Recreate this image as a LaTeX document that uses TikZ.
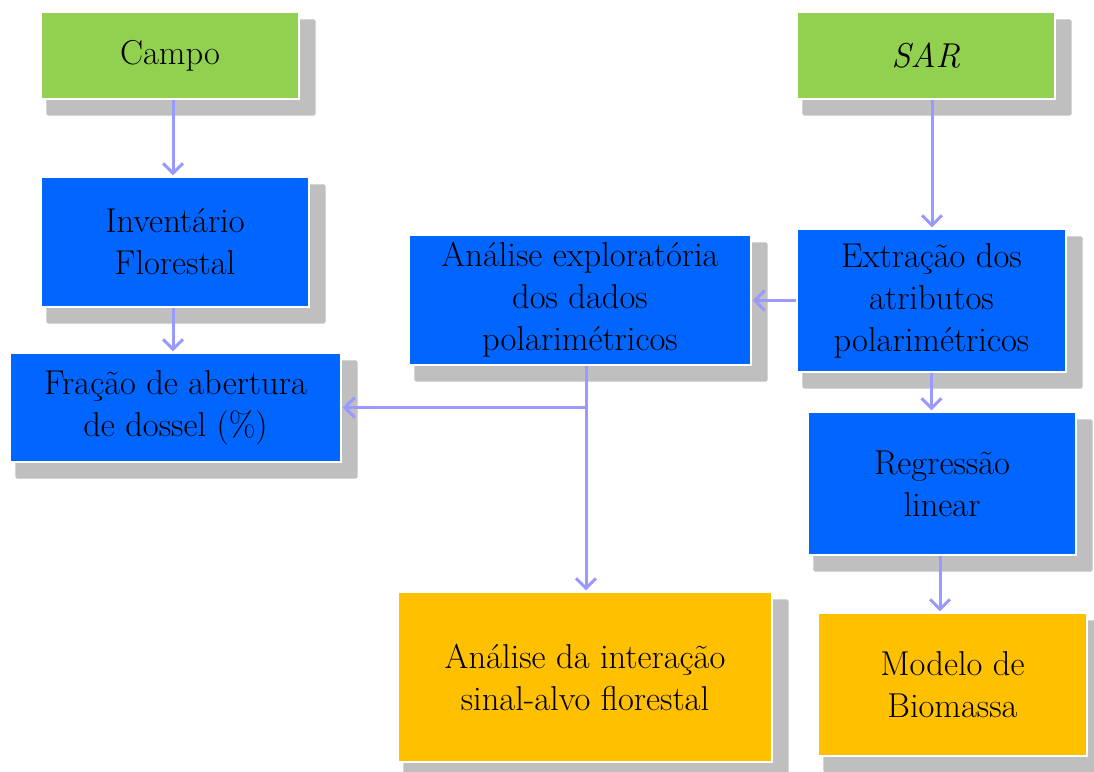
\documentclass[tikz,border=0pt]{standalone}
\usepackage{fontspec}
\usetikzlibrary{arrows.meta,calc,backgrounds}
\definecolor{boxgreen}{HTML}{92D050}
\definecolor{boxblue}{HTML}{0066FF}
\definecolor{boxorange}{HTML}{FFC000}
\definecolor{arrowc}{HTML}{9999FF}
\definecolor{shadowc}{HTML}{BFBFBF}
\begin{document}
\begin{tikzpicture}[x=1pt,y=-1pt,
  box/.style={draw=white, line width=1.2pt, inner sep=0pt, align=center,
    font=\fontsize{34.5}{42}\selectfont},
  gbox/.style={box, fill=boxgreen},
  bbox/.style={box, fill=boxblue},
  obox/.style={box, fill=boxorange},
  arr/.style={draw=arrowc, line width=3pt, -{Straight Barb[length=10pt,width=20pt]}, shorten >=1pt}
]
\useasboundingbox (0,0) rectangle (1094,771);

\node[gbox, minimum width=258pt, minimum height=87pt] (campo) at (170,55.5) {Campo};
\node[gbox, minimum width=258pt, minimum height=87pt] (sar) at (926,55.5) {\itshape SAR};
\node[bbox, minimum width=268pt, minimum height=130pt] (inv) at (175,242) {Inventário\\Florestal};
\node[bbox, minimum width=331pt, minimum height=109pt] (frac) at (175.5,407.5) {Fração de abertura\\de dossel (\%)};
\node[bbox, minimum width=342pt, minimum height=130pt] (expl) at (580,300) {Análise exploratória\\dos dados\\polarimétricos};
\node[bbox, minimum width=269pt, minimum height=143pt] (extr) at (931.5,300.5) {Extração dos\\atributos\\polarimétricos};
\node[bbox, minimum width=268pt, minimum height=143pt] (regr) at (942,483.5) {Regressão\\linear};
\node[obox, minimum width=374pt, minimum height=170pt] (inter) at (585,677) {Análise da interação\\sinal-alvo florestal};
\node[obox, minimum width=269pt, minimum height=143pt] (model) at (952.5,684.5) {Modelo de\\Biomassa};

\begin{scope}[on background layer]
\foreach \n in {campo,sar,inv,frac,expl,extr,regr,inter,model}{
  \fill[shadowc, rounded corners=2pt] ($(\n.north west)+(6,8)$) rectangle ($(\n.south east)+(16,16)$);
}
\end{scope}

\coordinate (ca) at ([xshift=3pt]campo.south);
\draw[arr] (ca) -- (ca |- inv.north);
\coordinate (ia) at ([xshift=-2pt]inv.south);
\draw[arr] (ia) -- (ia |- frac.north);
\coordinate (sa) at ([xshift=6pt]sar.south);
\draw[arr] (sa) -- (sa |- extr.north);
\draw[arr] (extr.west) -- (extr.west -| expl.east);
\coordinate (ea) at ([xshift=6pt]expl.south);
\draw[arr] (ea) -- (ea |- inter.north);
\coordinate (jn) at (ea |- frac.east);
\draw[arr] (jn) -- (frac.east);
\coordinate (xa) at ([xshift=0pt]extr.south);
\draw[arr] (xa) -- (xa |- regr.north);
\coordinate (ra) at ([xshift=-2pt]regr.south);
\draw[arr] (ra) -- (ra |- model.north);
\end{tikzpicture}
\end{document}
